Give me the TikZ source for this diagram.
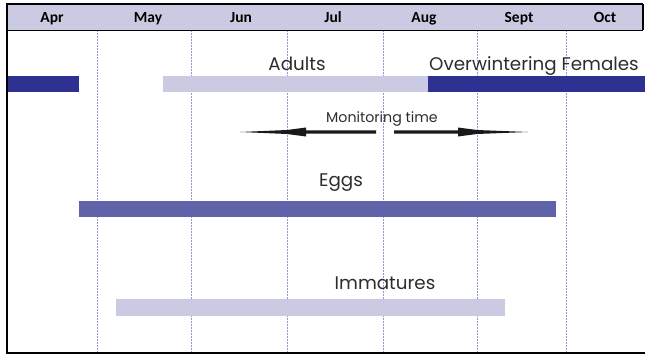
\documentclass[tikz,border=0pt]{standalone}
\usepackage{fontspec}
\setmainfont{Poppins}
\newfontfamily\headf{Carlito}
\begin{document}
\begin{tikzpicture}[x=1pt,y=-1pt,
  dark/.style={fill={rgb,255:red,46;green,49;blue,146}},
  mid/.style={fill={rgb,255:red,96;green,99;blue,170}},
  light/.style={fill={rgb,255:red,202;green,203;blue,226}},
  grid/.style={draw={rgb,255:red,150;green,150;blue,205},line width=0.6pt,dash pattern=on 1.5pt off 1.5pt},
  month/.style={font=\headf\bfseries\fontsize{15.5}{16}\selectfont,anchor=base},
  lab/.style={font=\fontsize{18.3}{20}\selectfont,text={rgb,255:red,45;green,45;blue,45},anchor=base},
  arr/.style={fill={rgb,255:red,25;green,25;blue,25}}]
\useasboundingbox (0,0) rectangle (645,356);
% header
\fill[light] (7,4) rectangle (643,30);
% grid lines
\foreach \x in {97,191,287,383,477,566} \draw[grid] (\x,30) -- (\x,353);
% bars
\fill[dark] (8,76) rectangle (79,92);
\fill[light] (163,76) rectangle (428,92);
\fill[dark] (428,76) rectangle (645,92);
\fill[mid] (79,201) rectangle (556,217);
\fill[light] (116,299) rectangle (505,316);
% frame
\draw[line width=1.2pt] (643,4) -- (7,4) -- (7,353) -- (645,353);
\draw[line width=0.8pt] (7,30) -- (643,30);
\draw[line width=1.2pt] (643,4) -- (643,30);
% month labels
\node[month] (apr) at (52,23) {Apr};
\node[month] (may) at (148,23) {May};
\node[month] (jun) at (241,23) {Jun};
\node[month] (jul) at (333,23) {Jul};
\node[month] (aug) at (424,23) {Aug};
\node[month] (sep) at (519,23) {Sept};
\node[month] (oct) at (605,23) {Oct};
% labels
\node[lab] (adults) at (297,70) {Adults};
\node[lab] (over) at (534,70) {Overwintering Females};
\node[lab] (eggs) at (341,186) {Eggs};
\node[lab] (imm) at (385,289) {Immatures};
\node[lab,font=\fontsize{14.2}{15}\selectfont] (mon) at (382,122) {Monitoring time};
% arrows
\coordinate (lt) at (240,132);
\coordinate (lh) at (287,132);
\coordinate (le) at (376,132);
\coordinate (rs) at (394,132);
\coordinate (rh) at (477,132);
\coordinate (rt) at (528,132);
\fill[arr] (lt) -- ([yshift=-2]lh) -- ([xshift=19,yshift=-4.5]lh) -- ([xshift=19,yshift=-1.6]lh) -- ([yshift=-1.6]le) -- ([yshift=1.6]le) -- ([xshift=19,yshift=1.6]lh) -- ([xshift=19,yshift=4.5]lh) -- ([yshift=2]lh) -- cycle;
\fill[arr] (rt) -- ([yshift=-2]rh) -- ([xshift=-19,yshift=-4.5]rh) -- ([xshift=-19,yshift=-1.6]rh) -- ([yshift=-1.6]rs) -- ([yshift=1.6]rs) -- ([xshift=-19,yshift=1.6]rh) -- ([xshift=-19,yshift=4.5]rh) -- ([yshift=2]rh) -- cycle;
\end{tikzpicture}
\end{document}
